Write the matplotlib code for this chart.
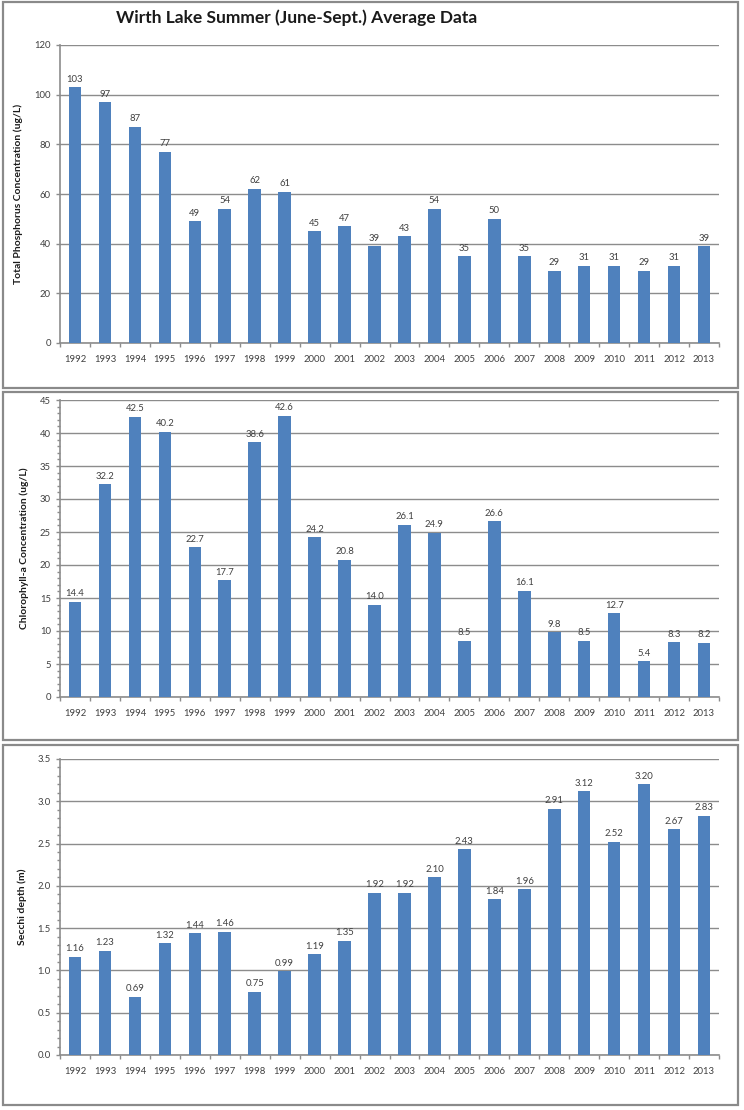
import matplotlib.pyplot as plt
from matplotlib.patches import Rectangle
from matplotlib.ticker import MultipleLocator

years = [str(y) for y in range(1992, 2014)]
phosphorus = [103, 97, 87, 77, 49, 54, 62, 61, 45, 47, 39, 43, 54, 35, 50, 35, 29, 31, 31, 29, 31, 39]
chlorophyll = [14.4, 32.2, 42.5, 40.2, 22.7, 17.7, 38.6, 42.6, 24.2, 20.8, 14.0, 26.1, 24.9, 8.5,
               26.6, 16.1, 9.8, 8.5, 12.7, 5.4, 8.3, 8.2]
secchi = [1.16, 1.23, 0.69, 1.32, 1.44, 1.46, 0.75, 0.99, 1.19, 1.35, 1.92, 1.92, 2.10, 2.43,
          1.84, 1.96, 2.91, 3.12, 2.52, 3.20, 2.67, 2.83]

plt.rcParams['font.family'] = ['Lato', 'DejaVu Sans']

W, H = 744, 1110
fig = plt.figure(figsize=(W / 100, H / 100), dpi=100)

bar_color = '#4F81BD'
grid_color = '#8c8c8c'
text_color = '#404040'


def fx(px):
    return px / W


def fy(py):
    return 1 - py / H


# panel frames (pixel coords: top, bottom)
for top, bottom in [(2, 388), (392, 740), (745, 1105)]:
    fig.patches.append(Rectangle((fx(3), fy(bottom)), fx(735), (bottom - top) / H,
                                 transform=fig.transFigure, fill=False,
                                 edgecolor='#8a8a8a', linewidth=1.6))

fig.text(fx(297), fy(18), 'Wirth Lake Summer (June-Sept.) Average Data',
         ha='center', va='center', fontsize=12.5, fontweight='bold', color='#1a1a1a')

panels = [
    (phosphorus, 'Total Phosphorus Concentration (ug/L)', 45, 343, 120, 20, None, '{:.0f}'),
    (chlorophyll, 'Chlorophyll-a Concentration (ug/L)', 400, 697, 45, 5, 1, '{:.1f}'),
    (secchi, 'Secchi depth (m)', 759, 1055, 3.5, 0.5, 0.1, '{:.2f}'),
]

for values, ylabel, top, bottom, ymax, major, minor, fmt in panels:
    ax = fig.add_axes([fx(60), fy(bottom), fx(719 - 60), (bottom - top) / H])
    x = range(len(years))
    ax.bar(x, values, width=0.42, color=bar_color, zorder=3)
    for xi, v in zip(x, values):
        ax.text(xi, v + ymax * 0.012, fmt.format(v), ha='center', va='bottom',
                fontsize=6.8, color=text_color)
    ax.set_xlim(-0.5, len(years) - 0.5)
    ax.set_ylim(0, ymax)
    ax.yaxis.set_major_locator(MultipleLocator(major))
    if minor:
        ax.yaxis.set_minor_locator(MultipleLocator(minor))
    if ymax < 10:
        ax.yaxis.set_major_formatter(plt.FormatStrFormatter('%.1f'))
    ax.yaxis.grid(True, color=grid_color, linewidth=1.0, zorder=0)
    ax.set_xticks(list(x))
    ax.set_xticklabels(years)
    ax.set_xticks([i - 0.5 for i in range(len(years) + 1)], minor=True)
    ax.tick_params(axis='x', which='major', length=0, labelsize=6.8, colors=text_color, pad=9)
    ax.tick_params(axis='x', which='minor', length=3, color=grid_color, width=1)
    ax.tick_params(axis='y', which='major', length=3, labelsize=6.8, colors=text_color,
                   color=grid_color, width=1)
    ax.tick_params(axis='y', which='minor', length=2, color=grid_color, width=1)
    for side in ['top', 'right']:
        ax.spines[side].set_visible(False)
    for side in ['left', 'bottom']:
        ax.spines[side].set_color(grid_color)
        ax.spines[side].set_linewidth(1.2)
    ax.set_ylabel(ylabel, fontsize=7.5, fontweight='bold', color='#1a1a1a', labelpad=8)

fig.savefig('out.png', dpi=100)
